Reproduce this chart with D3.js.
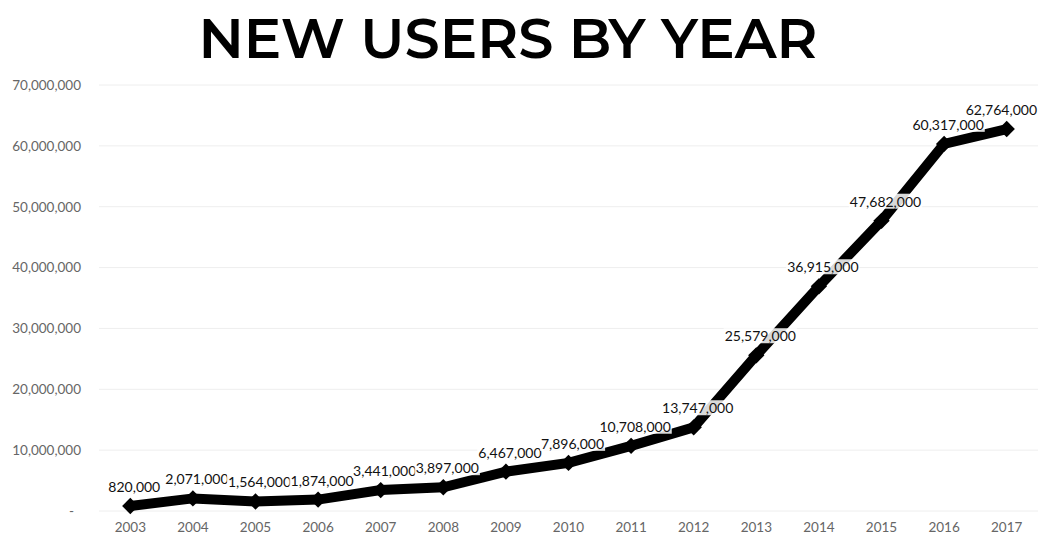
<!DOCTYPE html>
<html>
<head>
<meta charset="utf-8">
<script src="https://cdn.jsdelivr.net/npm/d3@7"></script>
<style>
  html, body { margin: 0; padding: 0; background: #fff; }
  svg { display: block; }
</style>
</head>
<body>
<div id="chart"></div>
<script>
// data
const years = ["2003", "2004", "2005", "2006", "2007", "2008", "2009", "2010",
  "2011", "2012", "2013", "2014", "2015", "2016", "2017"];
const newUsers = [820000, 2071000, 1564000, 1874000, 3441000, 3897000, 6467000,
  7896000, 10708000, 13747000, 25579000, 36915000, 47682000, 60317000, 62764000];
const yTicks = [0, 10000000, 20000000, 30000000, 40000000, 50000000, 60000000, 70000000];
const title = "NEW USERS BY YEAR";

const width = 1041;
const height = 536;
const margin = { top: 85, right: 3, bottom: 25, left: 99 };
const plotW = width - margin.left - margin.right;
const plotH = height - margin.top - margin.bottom;

const svg = d3.select("#chart")
  .append("svg")
  .attr("width", width)
  .attr("height", height);

svg.append("text")
  .attr("x", 508)
  .attr("y", 58)
  .attr("text-anchor", "middle")
  .style("font-family", "Montserrat, 'Open Sans', sans-serif")
  .style("font-weight", 600)
  .style("font-size", "56px")
  .style("fill", "#000")
  .text(title);

const g = svg.append("g")
  .attr("transform", `translate(${margin.left},${margin.top})`);

const x = d3.scaleBand()
  .domain(years)
  .range([0, plotW]);

const y = d3.scaleLinear()
  .domain([0, 70000000])
  .range([plotH, 0]);

const fmt = d3.format(",");

// gridlines
g.append("g")
  .selectAll("line")
  .data(yTicks)
  .join("line")
  .attr("x1", 0)
  .attr("x2", plotW)
  .attr("y1", (d) => y(d))
  .attr("y2", (d) => y(d))
  .attr("stroke", "#eeeeee")
  .attr("stroke-width", 1);

// y axis
const yAxis = g.append("g")
  .call(d3.axisLeft(y).tickValues(yTicks).tickSize(0).tickPadding(18)
    .tickFormat((d) => (d === 0 ? "-" : fmt(d))));
yAxis.select(".domain").remove();
yAxis.selectAll("text")
  .style("font-family", "Lato, sans-serif")
  .style("font-size", "13.5px")
  .style("fill", "#666");
yAxis.selectAll(".tick text")
  .filter((d) => d === 0)
  .attr("dx", "-7px");

// x axis
const xAxis = g.append("g")
  .attr("transform", `translate(0,${plotH})`)
  .call(d3.axisBottom(x).tickSize(0).tickPadding(11));
xAxis.select(".domain").remove();
xAxis.selectAll("text")
  .style("font-family", "Lato, sans-serif")
  .style("font-size", "13.5px")
  .style("fill", "#666");

const cx = (i) => x(years[i]) + x.bandwidth() / 2;

// line
const line = d3.line()
  .x((d, i) => cx(i))
  .y((d) => y(d));

g.append("path")
  .datum(newUsers)
  .attr("fill", "none")
  .attr("stroke", "#000")
  .attr("stroke-width", 10)
  .attr("stroke-linejoin", "miter")
  .attr("d", line);

// diamond markers
g.selectAll("path.marker")
  .data(newUsers)
  .join("path")
  .attr("class", "marker")
  .attr("d", d3.symbol().type(d3.symbolDiamond2).size(170))
  .attr("transform", (d, i) => `translate(${cx(i)},${y(d)})`)
  .attr("fill", "#000");

// labels with white backgrounds, later ones covering earlier ones
const labels = g.selectAll("g.label")
  .data(newUsers)
  .join("g")
  .attr("class", "label");

labels.each(function (d, i) {
  const lg = d3.select(this);
  const t = lg.append("text")
    .attr("text-anchor", "middle")
    .attr("dy", "0.35em")
    .style("font-family", "Lato, sans-serif")
    .style("font-size", "14px")
    .style("fill", "#111")
    .text(fmt(d));
  const bb = t.node().getBBox();
  // keep the label inside the plot area on the right
  let lx = cx(i) + 4;
  if (lx + bb.width / 2 > plotW) lx = plotW - bb.width / 2 - 1;
  lg.attr("transform", `translate(${lx},${y(d) - 19})`);
  lg.insert("rect", "text")
    .attr("x", bb.x - 1)
    .attr("y", bb.y + 1)
    .attr("width", bb.width + 2)
    .attr("height", bb.height - 2)
    .attr("fill", "#fff")
    .attr("opacity", 0.85);
});
</script>
</body>
</html>
